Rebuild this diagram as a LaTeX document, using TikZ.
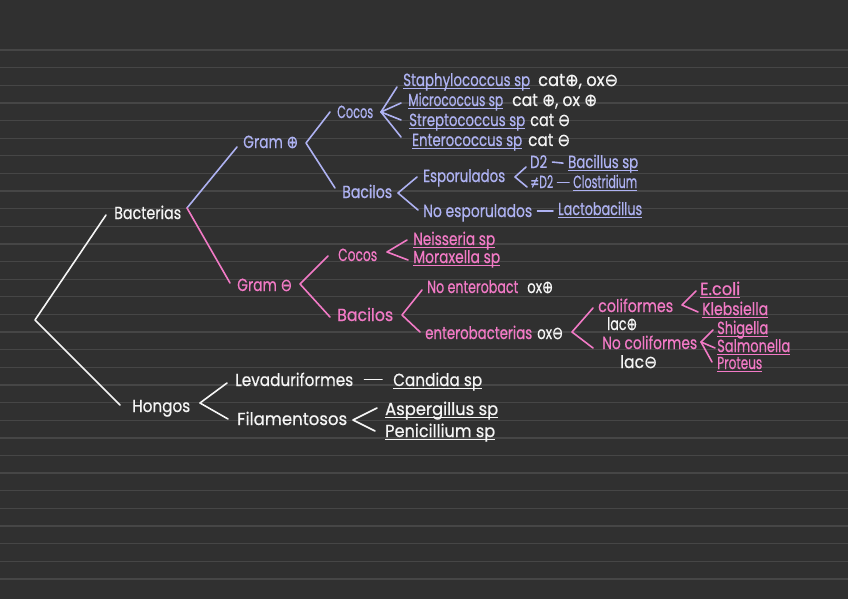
\documentclass[tikz,border=0pt]{standalone}
\usepackage{fontspec}
\setmainfont{Poppins}[FakeBold=0.6]
\newfontfamily\symf{DejaVu Sans}[FakeBold=0.6]
\usepackage{graphicx}
\definecolor{bgc}{HTML}{303030}
\definecolor{rulec}{HTML}{464646}
\definecolor{wht}{HTML}{F5F5F5}
\definecolor{lav}{HTML}{AEB2F2}
\definecolor{pnk}{HTML}{F27AC6}
\newcommand\plussym{{\symf ⊕}}
\newcommand\minsym{{\symf ⊖}}
\newcommand\neqsym{{\symf ≠}}
\newcommand\tw[2]{\resizebox{#1pt}{\height}{#2}}
\newcommand\uw[2]{\setbox0=\hbox{\resizebox{#1pt}{\height}{#2}}\rlap{\rule[-3.2pt]{\wd0}{1.4pt}}\box0}
\tikzset{
  txt/.style={anchor=base west, inner sep=0pt, font=\fontsize{17.5}{19}\selectfont},
  wtx/.style={txt, text=wht}, ltx/.style={txt, text=lav}, ptx/.style={txt, text=pnk},
  lnk/.style={line width=1.6pt, line cap=round, line join=round},
  wline/.style={lnk, draw=wht}, lline/.style={lnk, draw=lav}, pline/.style={lnk, draw=pnk},
  dsh/.style={shorten <=#1, shorten >=#1}
}
\begin{document}
\begin{tikzpicture}[x=1pt,y=-1pt]
\fill[bgc] (0,0) rectangle (848,599);
\useasboundingbox (0,0) rectangle (848,599);
\foreach \k in {0,...,30} \draw[rulec, line width=1.3pt] (0,{50+17.63*\k}) -- (848,{50+17.63*\k});

% ---------- white ----------
\node[wtx] (bact) at (114,219) {\tw{67}{Bacterias}};
\node[wtx] (hong) at (132,412) {\tw{58}{Hongos}};
\node[wtx] (lev) at (235,386) {\tw{118}{Levaduriformes}};
\node[wtx] (fil) at (237,425) {\tw{110}{Filamentosos}};
\node[wtx] (cand) at (393,386) {\uw{89}{Candida sp}};
\node[wtx] (asp) at (385,415) {\uw{113}{Aspergillus sp}};
\node[wtx] (pen) at (385,437) {\uw{110}{Penicillium sp}};
\node[wtx] (c1) at (538,86) {\tw{80}{cat\plussym, ox\minsym}};
\node[wtx] (c2) at (512,106) {\tw{85}{cat \plussym, ox \plussym}};
\node[wtx] (c3) at (530,126) {\tw{40}{cat \minsym}};
\node[wtx] (c4) at (528,146) {\tw{42}{cat \minsym}};
\node[wtx] (o1) at (527,293) {\tw{26}{ox\plussym}};
\node[wtx] (o2) at (537,339) {\tw{26}{ox\minsym}};
\node[wtx] (l1) at (607,330) {\tw{30}{lac\plussym}};
\node[wtx] (l2) at (620,368) {\tw{37}{lac\minsym}};

% ---------- lavender ----------
\node[ltx] (gramp) at (243,148) {\tw{55}{Gram \plussym}};
\node[ltx] (cocp) at (337,118) {\tw{36}{Cocos}};
\node[ltx] (bacp) at (342,198) {\tw{50}{Bacilos}};
\node[ltx] (staph) at (403,86) {\uw{127}{Staphylococcus sp}};
\node[ltx] (micro) at (408,106) {\uw{95}{Micrococcus sp}};
\node[ltx] (strep) at (409,126) {\uw{116}{Streptococcus sp}};
\node[ltx] (entc) at (412,146) {\uw{110}{Enterococcus sp}};
\node[ltx] (espo) at (423,182) {\tw{82}{Esporulados}};
\node[ltx] (d2) at (530,168) {\tw{17}{D2}};
\node[ltx] (bacil) at (568,168) {\uw{70}{Bacillus sp}};
\node[ltx] (nd2) at (530,188) {\tw{23}{\neqsym D2}};
\node[ltx] (clos) at (573,188) {\uw{64}{Clostridium}};
\node[ltx] (noesp) at (423,217) {\tw{109}{No esporulados}};
\node[ltx] (lacto) at (558,215) {\uw{84}{Lactobacillus}};

% ---------- pink ----------
\node[ptx] (gramm) at (237,291) {\tw{55}{Gram \minsym}};
\node[ptx] (cocm) at (338,261) {\tw{39}{Cocos}};
\node[ptx] (bacm) at (337,321) {\tw{56}{Bacilos}};
\node[ptx] (neis) at (413,245) {\uw{82}{Neisseria sp}};
\node[ptx] (mora) at (413,263) {\uw{87}{Moraxella sp}};
\node[ptx] (noent) at (427,293) {\tw{91}{No enterobact}};
\node[ptx] (entb) at (425,339) {\tw{107}{enterobacterias}};
\node[ptx] (coli) at (598,312) {\tw{75}{coliformes}};
\node[ptx] (nocoli) at (602,349) {\tw{95}{No coliformes}};
\node[ptx] (ecoli) at (700,295) {\uw{40}{E.coli}};
\node[ptx] (kleb) at (702,315) {\uw{66}{Klebsiella}};
\node[ptx] (shig) at (717,334) {\uw{51}{Shigella}};
\node[ptx] (salm) at (717,352) {\uw{73}{Salmonella}};
\node[ptx] (prot) at (717,369) {\uw{45}{Proteus}};

% ---------- bracket vertices and ends ----------
\coordinate (vroot) at (35,320);
\coordinate (eb) at (106,215); \coordinate (eh) at (120,405);
\coordinate (vbact) at (187,208);
\coordinate (egp) at (237,147); \coordinate (egm) at (230,283);
\coordinate (vgp) at (306,143);
\coordinate (ecp) at (330,112); \coordinate (ebp) at (335,188);
\coordinate (vcp) at (381,112);
\coordinate (e1) at (397,87); \coordinate (e2) at (401,103);
\coordinate (e3) at (401,120); \coordinate (e4) at (401,137);
\coordinate (vbp) at (398,193);
\coordinate (ees) at (417,177); \coordinate (ene) at (418,210);
\coordinate (ves) at (515,177);
\coordinate (ed2) at (526,167); \coordinate (end2) at (527,187);
\coordinate (vgm) at (300,284);
\coordinate (ecm) at (328,256); \coordinate (ebm) at (330,317);
\coordinate (vcm) at (387,252);
\coordinate (ene1) at (407,240); \coordinate (emo) at (408,260);
\coordinate (vbm) at (402,315);
\coordinate (enoe) at (422,290); \coordinate (eent) at (420,332);
\coordinate (vent) at (572,332);
\coordinate (eco) at (593,308); \coordinate (enc) at (593,348);
\coordinate (vco) at (682,305);
\coordinate (eec) at (696,291); \coordinate (ekl) at (698,312);
\coordinate (vnc) at (701,342);
\coordinate (esh) at (713,330); \coordinate (esa) at (715,348); \coordinate (epr) at (712,362);
\coordinate (vh) at (200,403);
\coordinate (elv) at (227,383); \coordinate (efi) at (228,419);
\coordinate (vfi) at (353,420);
\coordinate (eas) at (377,408); \coordinate (epe) at (375,431);

% ---------- connectors ----------
\draw[wline] (eb) -- (vroot) -- (eh);
\draw[lline] (vbact) -- (egp);
\draw[pline] (vbact) -- (egm);
\draw[lline] (ecp) -- (vgp) -- (ebp);
\draw[lline] (vcp) -- (e1); \draw[lline] (vcp) -- (e2);
\draw[lline] (vcp) -- (e3); \draw[lline] (vcp) -- (e4);
\draw[lline] (ees) -- (vbp) -- (ene);
\draw[lline] (ed2) -- (ves) -- (end2);
\draw[lline, dsh=5pt] (d2.east) -- (bacil.west);
\draw[lline, dsh=4pt] ([yshift=-1pt]nd2.east) -- ([yshift=-1pt]nd2.east -| clos.west);
\draw[lline, dsh=5pt] ([yshift=2pt]noesp.east) -- ([yshift=2pt]noesp.east -| lacto.west);
\draw[pline] (ecm) -- (vgm) -- (ebm);
\draw[pline] (ene1) -- (vcm) -- (emo);
\draw[pline] (enoe) -- (vbm) -- (eent);
\draw[pline] (eco) -- (vent) -- (enc);
\draw[pline] (eec) -- (vco) -- (ekl);
\draw[pline] (vnc) -- (esh); \draw[pline] (vnc) -- (esa); \draw[pline] (vnc) -- (epr);
\draw[wline] (elv) -- (vh) -- (efi);
\draw[wline] (eas) -- (vfi) -- (epe);
\draw[wline, dsh=11pt] (lev.east) -- (lev.east -| cand.west);
\end{tikzpicture}
\end{document}
